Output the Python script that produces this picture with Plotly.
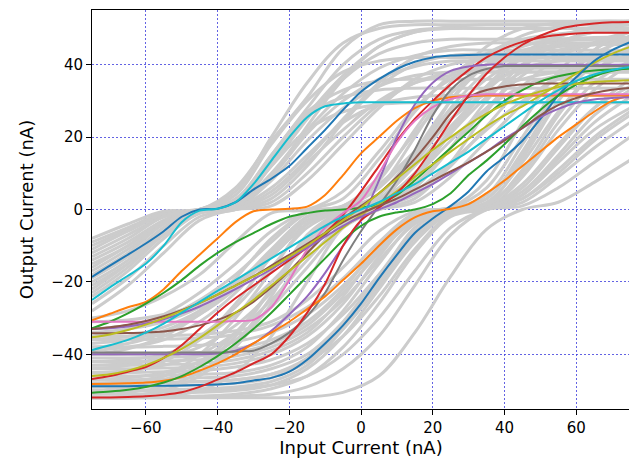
import plotly.graph_objects as go

# input current grid (nA) for the highlighted curves
x_fine = [-75, -70, -65, -60, -55, -50, -45, -40, -35, -30, -25, -20, -15, -10, -5, 0,
          5, 10, 15, 20, 25, 30, 35, 40, 45, 50, 55, 60, 65, 70, 75]

# coarser grid for the grey background ensemble
x_coarse = [-75, -65, -55, -45, -35, -25, -15, -5, 5, 15, 25, 35, 45, 55, 65, 75]

gray_left = [
    [-8, -4, -0.5, 0, 6, 19, 31, 44.5, 51, 52, 52, 52, 52, 52, 52, 52],
    [-9, -5, -1, 0, 5, 20, 35, 46, 50, 51, 51, 51, 51, 51, 51, 51],
    [-10, -5.5, -1, 0, 3, 15, 28, 40, 47, 49.5, 50, 50, 50, 50, 50, 50],
    [-11, -6, -1.5, 0, 0.5, 9, 23, 36, 45, 49, 50, 50, 50, 50, 50, 50],
    [-12, -7, -2, 0, 1.5, 12, 25, 36, 43, 46, 47, 47, 47, 47, 47, 47],
    [-13, -8, -2, 0, 4, 18, 30, 38, 41, 42, 42, 42, 42, 42, 42, 42],
    [-14, -9, -3, 0, 1, 10, 22, 32, 39, 42.5, 44, 44, 44, 44, 44, 44],
    [-15, -10, -3, 0, 2, 13, 26, 37, 45, 49, 50.5, 51, 51, 51, 51, 51],
    [-16, -10, -3.5, 0, 0.5, 8, 19, 28, 34, 37, 38, 38, 38, 38, 38, 38],
    [-17, -11, -4, 0, 0.3, 5, 14, 25, 35, 42, 45, 46, 46, 46, 46, 46],
    [-18, -12, -4, 0, 2.5, 15, 27, 33, 35.5, 36, 36, 36, 36, 36, 36, 36],
    [-19, -13, -5, -0.5, 0, 3, 12, 24, 34, 40, 42.5, 43, 43, 43, 43, 43],
    [-20, -14, -5, 0, 1, 9, 21, 30, 36, 39.5, 41, 41, 41, 41, 41, 41],
    [-21, -15, -7, -1, 0, 2, 10, 20, 29, 35, 38, 39, 39, 39, 39, 39],
    [-22, -15, -6, -0.5, 0.5, 6, 15, 24, 29, 31, 31.5, 31.5, 31.5, 31.5, 31.5, 31.5],
    [-23, -16, -7, -1, 1, 14, 26, 31, 33, 33.5, 33.5, 33.5, 33.5, 33.5, 33.5, 33.5],
    [-24, -17, -8, -1, 0.5, 12, 22, 27, 29, 29.5, 29.5, 29.5, 29.5, 29.5, 29.5, 29.5],
    [-26, -19, -10, -2, 0, 4, 13, 22, 30, 35, 37, 38, 38, 38, 38, 38],
    [-28, -21, -12, -3, 0, 1, 8, 18, 28, 36, 40, 41.5, 42, 42, 42, 42],
]

gray_mid = [
    [-30, -28, -24, -18, -9, -1, 0, 5, 16, 28, 36, 40, 41.5, 42, 42, 42],
    [-31, -30.5, -29, -26, -20, -12, -3, 0, 3, 13, 25, 34, 39, 41, 41.5, 41.5],
    [-33, -32, -30, -25, -18, -9, -1, 1, 7, 16, 25, 32, 36, 38, 38.5, 38.5],
    [-34, -33, -31, -27, -21, -13, -4, 0, 1.5, 9, 19, 28, 34, 37, 38, 38.5],
    [-35, -33, -29, -23, -15, -6, -0.5, 1, 9, 21, 32, 40, 44, 45.5, 46, 46],
    [-36, -35, -32.5, -28, -21, -12, -3, 0, 1, 7, 17, 28, 37, 43, 46, 47],
    [-37, -36, -33.5, -29, -22, -13, -4, 0, 2, 10, 21, 31, 38, 41.5, 43, 43.5],
    [-38, -37, -34, -28, -19, -8, -0.5, 3, 14, 27, 37, 43, 45.5, 46.5, 47, 47],
    [-39, -38, -36, -31, -23, -12, -2, 0, 4, 15, 28, 38, 43, 45, 45.5, 45.5],
    [-40, -38.5, -35, -29, -21, -11, -2, 0.5, 6, 16, 27, 36, 42, 45, 46, 46.5],
    [-42, -41.5, -40, -36, -29, -20, -10, -2, 0.5, 5, 13, 22, 30, 36, 39, 40],
    [-43, -42.5, -41, -38, -32, -23, -12, -3, 0.5, 4, 12, 23, 34, 42, 46, 47.5],
    [-44, -43, -40.5, -35, -27, -16, -5, 0, 3, 12, 23, 33, 40, 44, 45.5, 46],
    [-45, -44.5, -43, -40, -34, -25, -14, -4, 0, 2, 9, 19, 29, 37, 42, 44],
    [-46, -45, -42, -36, -26, -13, -2, 0.5, 8, 22, 35, 43, 47, 48.5, 49, 49],
    [-47, -46.5, -45, -42, -36, -27, -16, -5, 0, 3, 13, 27, 39, 46, 49, 50],
    [-48, -47.5, -46, -42, -34, -22, -9, -1, 2, 10, 22, 34, 43, 48, 50, 51],
    [-49, -48.5, -47, -43, -35, -22, -7, 0, 4, 16, 30, 40, 45, 47, 47.5, 47.5],
    [-50, -49, -46, -40, -30, -17, -4, 0, 2, 14, 30, 42, 48, 50.5, 51.5, 52],
    [-51, -50.5, -49, -45, -37, -24, -8, 0, 6, 20, 35, 45, 50, 51.5, 52, 52],
    [-52, -51.5, -50, -46, -38, -26, -12, -2, 1, 9, 21, 33, 42, 47.5, 50.5, 52],
    [-52, -52, -51.5, -50, -45, -35, -20, -5, 0.5, 6, 17, 30, 40, 46, 49, 50],
]

gray_right = [
    [-35, -35, -34.8, -34.5, -33.5, -31, -25, -16, -6, -0.5, 0.5, 6, 20, 34, 43, 47],
    [-36, -36, -35.8, -35.5, -34.5, -32, -27, -19, -9, -1, 0.3, 3, 15, 30, 40, 45],
    [-38, -38, -37.8, -37.5, -36.5, -34, -29, -21, -11, -2.5, 0, 2, 13, 27, 38, 43],
    [-40, -40, -39.8, -39.5, -38.5, -36, -31, -22, -10, -1.5, 0.5, 8, 24, 38, 46, 49],
    [-41, -41, -40.8, -40.5, -39.5, -37, -32, -23, -12, -3, 0, 1.5, 10, 24, 35, 41],
    [-42, -42, -41.8, -41.5, -40.5, -38, -33, -25, -14, -4, 0, 0.5, 9, 22, 33, 40],
    [-43, -43, -42.8, -42.5, -41.5, -39, -34, -24, -11, -1.5, 0.3, 4, 18, 33, 44, 49],
    [-44, -44, -43.8, -43.5, -42.5, -40, -35, -26, -13, -2, 0.5, 3, 16, 32, 44, 50],
    [-45, -45, -44.8, -44.5, -43.5, -41.5, -37, -29, -18, -7, -0.5, 0.5, 7, 18, 28, 34],
    [-46, -46, -45.8, -45.5, -45, -43, -38, -28, -15, -3.5, 0, 1, 11, 26, 38, 45],
    [-47, -47, -46.8, -46.5, -46, -44, -40, -31, -18, -6, -0.5, 0.5, 6, 17, 28, 36],
    [-48, -48, -47.8, -47.5, -47, -45.5, -41, -32, -19, -5, 0, 1.5, 14, 30, 42, 48],
    [-48, -48, -47.8, -47.5, -47, -45.5, -42, -35, -24, -11, -1.5, 0, 4, 13, 22, 28],
    [-49, -49, -48.8, -48.5, -48, -46.5, -42, -33, -21, -8, -1, 0.3, 3, 10, 19, 26],
    [-50, -50, -49.8, -49.5, -49, -47.5, -43, -33, -20, -7, -0.5, 0.5, 5, 15, 26, 33],
    [-50, -50, -50, -49.8, -49.5, -48.5, -46, -40, -30, -17, -5, 0, 1, 6, 13, 20],
    [-51, -51, -50.8, -50.5, -50, -48.5, -44, -35, -22, -9, -1, 0, 4, 14, 24, 31],
    [-52, -52, -51.8, -51.5, -51, -49.5, -46, -38, -26, -12, -2, 0, 3, 11, 20, 27],
    [-52, -52, -52, -51.8, -51.5, -51, -49, -44, -35, -21, -7, 0, 2, 9, 17, 24],
    [-52, -52, -52, -52, -52, -52, -51.8, -50.5, -46, -34, -18.5, -5.5, 0, 2, 7.5, 13.6],
]

# highlighted curves, in plotting order (matplotlib tab10 cycle)
curve_colors = ["#1f77b4", "#ff7f0e", "#2ca02c", "#d62728", "#9467bd", "#8c564b", "#e377c2",
                "#7f7f7f", "#bcbd22", "#17becf", "#1f77b4", "#ff7f0e", "#2ca02c", "#d62728",
                "#9467bd", "#8c564b", "#bcbd22", "#17becf"]

curve_values = [
    # blue
    [-18.6, -15.5, -12.5, -9.4, -6, -2, 0, 0.2, 2, 5.5, 8.5, 12, 17, 22, 27.5, 32.5,
     36, 38.8, 40.8, 42, 42.5, 42.7, 42.8, 42.8, 42.8, 42.8, 42.8, 42.8, 42.8, 42.8, 42.8],
    # orange
    [-30.6, -28.8, -27, -25.5, -22, -17, -12.5, -8, -3.5, -0.5, 0, 0.2, 0.8, 4, 9.5, 15.5,
     20, 24.5, 28, 30, 31, 31.3, 31.5, 31.5, 31.5, 31.5, 31.5, 31.5, 31.5, 31.5, 31.5],
    # green
    [-32.8, -31, -28.7, -26, -23, -19.5, -15.5, -12, -9, -6.5, -4, -2, -1, -0.3, 0, 0.5,
     1.5, 4, 8, 12.5, 17, 21.5, 26, 30, 33, 35.3, 36.8, 37.8, 38.4, 38.7, 38.9],
    # red
    [-46.8, -46, -44.8, -43.5, -41, -37.5, -33, -28.5, -24.5, -21, -17.5, -14, -10.5, -6.5, -1.5, 5,
     12, 19, 25, 30, 34.5, 38.5, 42, 44.5, 46.3, 47.5, 48.2, 48.6, 48.8, 48.8, 48.8],
    # purple
    [-40, -40, -40, -40, -40, -40, -40, -39.8, -39, -37, -33.5, -29, -24, -17.5, -10, -3,
     8, 20, 29, 35, 38.3, 39.5, 40, 40, 40, 40, 40, 40, 40, 40, 40],
    # brown
    [-34.2, -34.2, -34.1, -34, -33.7, -33, -32, -30.5, -28.5, -25.5, -21.5, -17, -12, -7, -2.5, 1,
     4.5, 9, 14, 20, 26.5, 31, 33, 34, 34.5, 34.8, 34.8, 34.8, 34.8, 34.8, 34.8],
    # pink
    [-31, -31, -31, -31, -31, -31, -31, -31, -30.8, -30.5, -27, -19.5, -11, -5, -1, 2.5,
     10, 18.5, 24.5, 28.3, 30.5, 31.4, 31.8, 31.8, 31.8, 31.8, 31.8, 31.8, 31.8, 31.8, 31.8],
    # grey
    [-39.5, -39.5, -39.5, -39.5, -39.5, -39.5, -39.5, -39.5, -39.2, -39, -37, -34, -29.5, -23, -14, -6,
     1, 8, 16.5, 26, 33, 37, 38.8, 39.6, 39.6, 39.6, 39.6, 39.6, 39.6, 39.6, 39.6],
    # olive
    [-46, -45.5, -44.5, -43, -41, -38.5, -35.5, -32, -28.5, -25, -21, -17, -13, -9, -5, -1.5,
     1.5, 5, 9, 12.5, 16, 19.5, 23, 26, 28.5, 31.5, 34.5, 37.5, 40.5, 43, 44.9],
    # cyan
    [-25, -21.5, -18.3, -15, -10, -3.5, -0.3, 0.2, 2, 7, 13.5, 20, 25.5, 28.5, 29.3, 29.6,
     29.6, 29.6, 29.6, 29.6, 29.6, 29.6, 29.6, 29.6, 29.6, 29.6, 29.6, 29.6, 29.6, 29.6, 29.6],
    # blue
    [-48.8, -48.8, -48.8, -48.7, -48.7, -48.6, -48.5, -48.3, -48, -47.2, -46.5, -44.8, -41.5, -37, -32, -26,
     -19, -12.5, -6.5, -2.5, 1, 5, 10.5, 14.5, 19, 25, 31.5, 36.5, 41, 44, 46.2],
    # orange
    [-48.2, -48.1, -48, -47.8, -47.3, -46.3, -44.5, -42.5, -40, -37, -34, -31, -27.5, -24, -19.5, -15,
     -10, -5.5, -2.2, -0.5, 0.2, 1.5, 4.5, 8, 12, 16, 20, 23.5, 27, 30, 31.5],
    # green
    [-50.6, -50.3, -49.8, -49, -47.8, -46, -43.5, -40.5, -37, -33, -28.5, -23.5, -18.5, -13.5, -8.5, -4.5,
     -2, -0.8, 0, 1.5, 4.5, 9.5, 13.5, 18, 23, 27.5, 31.5, 34.5, 36.8, 38.3, 39.2],
    # red
    [-51.9, -51.9, -51.8, -51.6, -51.2, -50.5, -49, -47, -45, -42.5, -40, -35, -28.5, -20.5, -10, -3,
     0.5, 4.5, 10, 17, 24.5, 31.5, 37.5, 42, 45.5, 48, 49.8, 50.8, 51.4, 51.7, 51.8],
    # purple
    [-33, -32.8, -32.3, -31.5, -30.3, -28.7, -26.8, -24.5, -22, -19.3, -16.5, -13.5, -10.5, -7.5, -4.5, -2,
     0, 2, 4.5, 7, 10, 13, 16, 19.5, 22.5, 25.5, 27.8, 29.5, 30.4, 30.8, 31],
    # brown
    [-33, -32.5, -31.8, -30.8, -29.5, -27.8, -25.8, -23.5, -21, -18.5, -15.5, -12.5, -9.5, -6.5, -3.5, -1,
     1, 3, 5.5, 8, 10.5, 13, 16, 19, 22.5, 26, 28.8, 30.8, 32.2, 33.1, 33.6],
    # olive
    [-35.3, -34.5, -33.3, -31.8, -30, -28, -25.8, -23.5, -21, -18.5, -16, -13, -10, -6.5, -3, 0.5,
     4.5, 8.5, 12.5, 16.5, 20, 23.5, 26.5, 29, 31, 32.6, 33.8, 34.7, 35.2, 35.5, 35.7],
    # cyan
    [-38.8, -37.5, -36, -34, -31.5, -28.5, -25.5, -22.5, -19.5, -16.5, -13.5, -10.5, -7.5, -4.5, -2, 0,
     2, 4.5, 7, 10, 13, 16, 19.5, 23, 26.5, 30, 33, 35.5, 37.3, 38.5, 39.3],
]

x_ticks = [-60, -40, -20, 0, 20, 40, 60]
x_ticktext = ["\u221260", "\u221240", "\u221220", "0", "20", "40", "60"]
y_ticks = [-40, -20, 0, 20, 40]
y_ticktext = ["\u221240", "\u221220", "0", "20", "40"]

fig = go.Figure()

for ys in gray_left + gray_mid + gray_right:
    fig.add_trace(go.Scatter(x=x_coarse, y=ys, mode="lines", hoverinfo="skip",
                             line=dict(color="#cccccc", width=3, shape="spline", smoothing=1.0)))

for ys, col in zip(curve_values, curve_colors):
    fig.add_trace(go.Scatter(x=x_fine, y=ys, mode="lines", hoverinfo="skip",
                             line=dict(color=col, width=2, shape="spline", smoothing=0.8)))

axis_style = dict(showline=True, mirror=True, linecolor="black", linewidth=1, ticks="outside",
                  ticklen=5, tickcolor="black", showgrid=True, gridcolor="rgba(60,60,220,0.8)",
                  gridwidth=1, griddash="2px,2px", zeroline=False, automargin=False,
                  tickfont=dict(size=15, color="black"))

# the page body adds an 8px offset, so the figure is sized to the remaining window
fig.update_layout(
    width=629, height=454, showlegend=False,
    font=dict(family="DejaVu Sans", color="black"),
    margin=dict(l=84, r=7, t=2, b=53),
    plot_bgcolor="white", paper_bgcolor="white",
    xaxis=dict(range=[-75, 75], tickvals=x_ticks, ticktext=x_ticktext,
               title=dict(text="Input Current (nA)", font=dict(size=18), standoff=1), **axis_style),
    yaxis=dict(range=[-55.1, 55.1], tickvals=y_ticks, ticktext=y_ticktext,
               title=dict(text="Output Current (nA)", font=dict(size=18), standoff=13), **axis_style),
)

fig.write_html("out.html")
